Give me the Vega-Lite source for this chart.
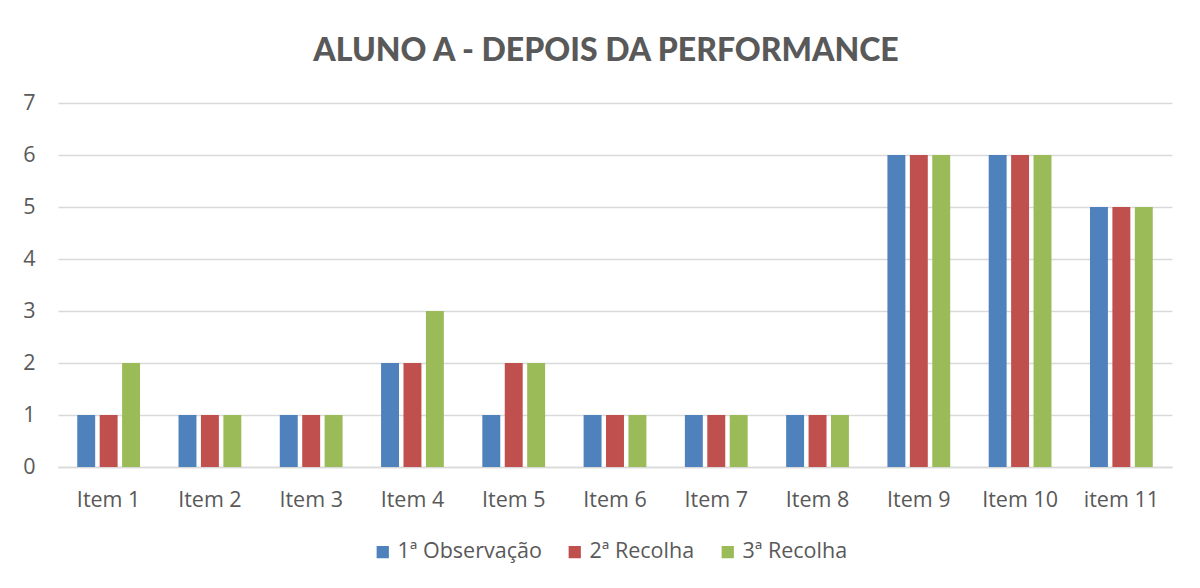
{
  "$schema": "https://vega.github.io/schema/vega-lite/v6.json",
  "width": 1114,
  "height": 364,
  "autosize": {"type": "none"},
  "padding": {"left": 58, "top": 103, "right": 28, "bottom": 121},
  "background": "white",
  "title": {
    "text": "ALUNO A - DEPOIS DA PERFORMANCE",
    "font": "Lato",
    "fontSize": 32,
    "fontWeight": 900,
    "color": "#595959",
    "anchor": "middle",
    "dx": -9,
    "offset": 24
  },
  "data": {
    "values": [
      {"item": "Item 1", "serie": "1ª Observação", "valor": 1},
      {"item": "Item 1", "serie": "2ª Recolha", "valor": 1},
      {"item": "Item 1", "serie": "3ª Recolha", "valor": 2},
      {"item": "Item 2", "serie": "1ª Observação", "valor": 1},
      {"item": "Item 2", "serie": "2ª Recolha", "valor": 1},
      {"item": "Item 2", "serie": "3ª Recolha", "valor": 1},
      {"item": "Item 3", "serie": "1ª Observação", "valor": 1},
      {"item": "Item 3", "serie": "2ª Recolha", "valor": 1},
      {"item": "Item 3", "serie": "3ª Recolha", "valor": 1},
      {"item": "Item 4", "serie": "1ª Observação", "valor": 2},
      {"item": "Item 4", "serie": "2ª Recolha", "valor": 2},
      {"item": "Item 4", "serie": "3ª Recolha", "valor": 3},
      {"item": "Item 5", "serie": "1ª Observação", "valor": 1},
      {"item": "Item 5", "serie": "2ª Recolha", "valor": 2},
      {"item": "Item 5", "serie": "3ª Recolha", "valor": 2},
      {"item": "Item 6", "serie": "1ª Observação", "valor": 1},
      {"item": "Item 6", "serie": "2ª Recolha", "valor": 1},
      {"item": "Item 6", "serie": "3ª Recolha", "valor": 1},
      {"item": "Item 7", "serie": "1ª Observação", "valor": 1},
      {"item": "Item 7", "serie": "2ª Recolha", "valor": 1},
      {"item": "Item 7", "serie": "3ª Recolha", "valor": 1},
      {"item": "Item 8", "serie": "1ª Observação", "valor": 1},
      {"item": "Item 8", "serie": "2ª Recolha", "valor": 1},
      {"item": "Item 8", "serie": "3ª Recolha", "valor": 1},
      {"item": "Item 9", "serie": "1ª Observação", "valor": 6},
      {"item": "Item 9", "serie": "2ª Recolha", "valor": 6},
      {"item": "Item 9", "serie": "3ª Recolha", "valor": 6},
      {"item": "Item 10", "serie": "1ª Observação", "valor": 6},
      {"item": "Item 10", "serie": "2ª Recolha", "valor": 6},
      {"item": "Item 10", "serie": "3ª Recolha", "valor": 6},
      {"item": "item 11", "serie": "1ª Observação", "valor": 5},
      {"item": "item 11", "serie": "2ª Recolha", "valor": 5},
      {"item": "item 11", "serie": "3ª Recolha", "valor": 5}
    ]
  },
  "mark": {"type": "bar"},
  "encoding": {
    "x": {
      "field": "item",
      "type": "nominal",
      "sort": null,
      "scale": {"paddingInner": 0.38, "paddingOuter": 0.19},
      "axis": {
        "title": null,
        "labelAngle": 0,
        "labelFont": "Open Sans",
        "labelFontSize": 21.5,
        "labelColor": "#595959",
        "labelPadding": 22,
        "ticks": false,
        "domain": true,
        "domainColor": "#d9d9d9",
        "domainWidth": 1.5,
        "grid": false
      }
    },
    "xOffset": {
      "field": "serie",
      "type": "nominal",
      "scale": {"paddingInner": 0.2}
    },
    "y": {
      "field": "valor",
      "type": "quantitative",
      "scale": {"domain": [0, 7], "nice": false},
      "axis": {
        "title": null,
        "values": [0, 1, 2, 3, 4, 5, 6, 7],
        "labelFont": "Open Sans",
        "labelFontSize": 21.5,
        "labelColor": "#595959",
        "labelPadding": 23,
        "ticks": false,
        "domain": false,
        "grid": true,
        "gridColor": "#d9d9d9",
        "gridWidth": 1.5
      }
    },
    "color": {
      "field": "serie",
      "type": "nominal",
      "scale": {
        "domain": ["1ª Observação", "2ª Recolha", "3ª Recolha"],
        "range": ["#4F81BD", "#C0504D", "#9BBB59"]
      },
      "legend": {
        "title": null,
        "orient": "none",
        "legendX": 314,
        "legendY": 438,
        "direction": "horizontal",
        "symbolType": "square",
        "symbolSize": 150,
        "symbolStrokeWidth": 0,
        "labelFont": "Open Sans",
        "labelFontSize": 21.5,
        "labelColor": "#595959",
        "columnPadding": 22,
        "labelOffset": 4
      }
    }
  },
  "config": {"view": {"stroke": null}}
}
